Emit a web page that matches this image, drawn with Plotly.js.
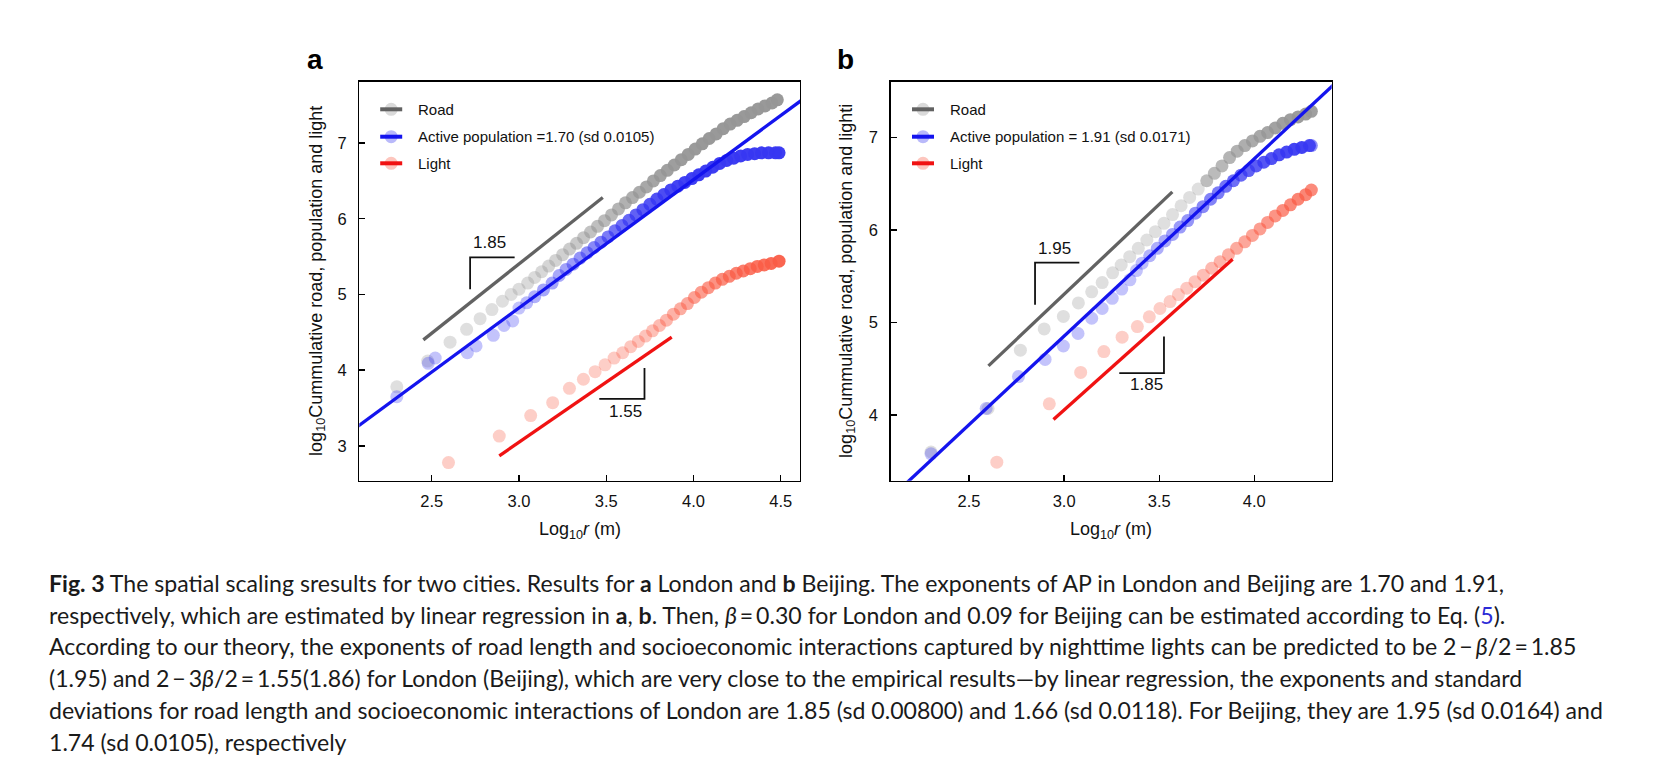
<!DOCTYPE html>
<html>
<head>
<meta charset="utf-8">
<script src="https://cdn.plot.ly/plotly-3.0.1.min.js"></script>
<style>html,body{margin:0;padding:0;background:#fff;}#chart{width:1658px;height:778px;}</style>
</head>
<body>
<div id="chart"></div>
<script>
// ================= DATA =================
// Panel a (London)
const roadA_x = [2.30, 2.477, 2.605, 2.70, 2.777, 2.845, 2.905, 2.955, 3.00, 3.05, 3.09, 3.13, 3.17, 3.21, 3.25, 3.29, 3.33, 3.37, 3.41, 3.45, 3.49, 3.53, 3.57, 3.61, 3.65, 3.69, 3.73, 3.77, 3.81, 3.85, 3.89, 3.93, 3.97, 4.01, 4.05, 4.09, 4.13, 4.17, 4.21, 4.25, 4.29, 4.33, 4.37, 4.41, 4.45, 4.48];
const roadA_y = [3.78, 4.12, 4.37, 4.54, 4.68, 4.80, 4.91, 5.00, 5.07, 5.15, 5.225, 5.30, 5.375, 5.45, 5.525, 5.60, 5.675, 5.75, 5.825, 5.90, 5.975, 6.05, 6.13, 6.21, 6.28, 6.35, 6.42, 6.50, 6.57, 6.64, 6.71, 6.78, 6.85, 6.92, 6.99, 7.06, 7.12, 7.19, 7.25, 7.30, 7.35, 7.40, 7.45, 7.49, 7.53, 7.57];
const popA_x = [2.30, 2.48, 2.52, 2.704, 2.754, 2.853, 2.914, 2.964, 3.00, 3.044, 3.09, 3.14, 3.19, 3.23, 3.27, 3.31, 3.35, 3.39, 3.43, 3.47, 3.51, 3.55, 3.59, 3.63, 3.67, 3.71, 3.75, 3.79, 3.83, 3.87, 3.91, 3.95, 3.99, 4.03, 4.07, 4.11, 4.15, 4.19, 4.23, 4.27, 4.31, 4.35, 4.39, 4.43, 4.47, 4.49];
const popA_y = [3.65, 4.09, 4.16, 4.23, 4.32, 4.46, 4.59, 4.65, 4.82, 4.89, 4.97, 5.06, 5.15, 5.25, 5.33, 5.40, 5.48, 5.55, 5.62, 5.69, 5.76, 5.84, 5.91, 5.98, 6.05, 6.12, 6.19, 6.26, 6.32, 6.38, 6.43, 6.48, 6.53, 6.58, 6.63, 6.68, 6.73, 6.77, 6.80, 6.83, 6.85, 6.86, 6.87, 6.87, 6.87, 6.87];
const lightA_x = [2.596, 2.887, 3.067, 3.193, 3.289, 3.369, 3.436, 3.493, 3.545, 3.594, 3.64, 3.684, 3.725, 3.765, 3.805, 3.845, 3.885, 3.925, 3.965, 4.005, 4.045, 4.085, 4.125, 4.165, 4.205, 4.245, 4.285, 4.325, 4.365, 4.405, 4.445, 4.49];
const lightA_y = [2.78, 3.13, 3.40, 3.57, 3.76, 3.88, 3.98, 4.07, 4.16, 4.23, 4.31, 4.38, 4.45, 4.52, 4.59, 4.66, 4.74, 4.81, 4.88, 4.96, 5.03, 5.09, 5.15, 5.20, 5.24, 5.28, 5.31, 5.34, 5.37, 5.39, 5.41, 5.44];
const popFitA_x = [2.05, 4.65];
const popFitA_y = [3.212, 7.618];
const roadGuideA_x = [2.452, 3.48];
const roadGuideA_y = [4.40, 6.28];
const lightGuideA_x = [2.887, 3.875];
const lightGuideA_y = [2.868, 4.436];
const bracketRoadA_x = [2.975, 2.72, 2.72];
const bracketRoadA_y = [5.49, 5.49, 5.07];
const bracketLightA_x = [3.46, 3.719, 3.719];
const bracketLightA_y = [3.62, 3.62, 4.03];
const slopeLabelsA = [{text: '1.85', x: 2.829, y: 5.68}, {text: '1.55', x: 3.61, y: 3.46}];
const legendLabelsA = ['Road', 'Active population =1.70 (sd 0.0105)', 'Light'];

// Panel b (Beijing)
const roadB_x = [2.30, 2.60, 2.77, 2.895, 2.996, 3.075, 3.145, 3.20, 3.255, 3.30, 3.345, 3.39, 3.435, 3.48, 3.525, 3.57, 3.615, 3.66, 3.705, 3.75, 3.79, 3.83, 3.87, 3.91, 3.95, 3.99, 4.03, 4.07, 4.11, 4.15, 4.19, 4.23, 4.27, 4.30];
const roadB_y = [3.60, 4.07, 4.70, 4.93, 5.065, 5.21, 5.33, 5.43, 5.535, 5.62, 5.71, 5.80, 5.89, 5.98, 6.07, 6.165, 6.26, 6.35, 6.44, 6.53, 6.61, 6.69, 6.78, 6.85, 6.91, 6.96, 7.01, 7.05, 7.10, 7.15, 7.19, 7.22, 7.25, 7.28];
const popB_x = [2.30, 2.59, 2.76, 2.90, 2.996, 3.073, 3.145, 3.20, 3.253, 3.303, 3.346, 3.38, 3.41, 3.45, 3.49, 3.53, 3.57, 3.61, 3.65, 3.69, 3.73, 3.77, 3.81, 3.85, 3.89, 3.93, 3.97, 4.01, 4.05, 4.09, 4.13, 4.17, 4.21, 4.25, 4.29, 4.30];
const popB_y = [3.58, 4.07, 4.415, 4.60, 4.745, 4.88, 5.045, 5.15, 5.26, 5.36, 5.46, 5.56, 5.64, 5.72, 5.80, 5.88, 5.95, 6.03, 6.10, 6.18, 6.25, 6.33, 6.40, 6.47, 6.53, 6.59, 6.64, 6.69, 6.73, 6.77, 6.81, 6.84, 6.87, 6.89, 6.91, 6.91];
const lightB_x = [2.646, 2.922, 3.087, 3.209, 3.305, 3.385, 3.448, 3.504, 3.557, 3.601, 3.645, 3.688, 3.732, 3.776, 3.82, 3.864, 3.907, 3.95, 3.99, 4.03, 4.07, 4.11, 4.15, 4.19, 4.23, 4.27, 4.30];
const lightB_y = [3.49, 4.12, 4.46, 4.685, 4.84, 4.955, 5.06, 5.15, 5.225, 5.30, 5.37, 5.44, 5.51, 5.585, 5.655, 5.73, 5.80, 5.87, 5.94, 6.01, 6.08, 6.15, 6.21, 6.27, 6.33, 6.38, 6.43];
const popFitB_x = [2.15, 4.45];
const popFitB_y = [3.224, 7.630];
const roadGuideB_x = [2.602, 3.569];
const roadGuideB_y = [4.53, 6.41];
const lightGuideB_x = [2.944, 3.886];
const lightGuideB_y = [3.95, 5.682];
const bracketRoadB_x = [3.08, 2.847, 2.847];
const bracketRoadB_y = [5.646, 5.646, 5.19];
const bracketLightB_x = [3.29, 3.525, 3.525];
const bracketLightB_y = [4.451, 4.451, 4.847];
const slopeLabelsB = [{text: '1.95', x: 2.949, y: 5.80}, {text: '1.85', x: 3.432, y: 4.325}];
const legendLabelsB = ['Road', 'Active population = 1.91 (sd 0.0171)', 'Light'];

// sampling step of r (m) behind each series (controls how densely dots pile up)
const rStepA = {road: 100, pop: 100, light: 400};
const rStepB = {road: 200, pop: 200, light: 400};

// Axis ticks
const xTicksA = [2.5, 3.0, 3.5, 4.0, 4.5];
const xTicksB = [2.5, 3.0, 3.5, 4.0];
const yTicksA = [3, 4, 5, 6, 7];
const yTicksB = [4, 5, 6, 7];

// Text
const xTitle = 'Log<sub>10</sub><i>r</i> (m)';
const yTitleA = 'log<sub>10</sub>Cummulative road, population and light';
const yTitleB = 'log<sub>10</sub>Cummulative road, population and lighti';
const captionLines = [
  '<b>Fig. 3</b> The spatial scaling sresults for two cities. Results for <b>a</b> London and <b>b</b> Beijing. The exponents of AP in London and Beijing are 1.70 and 1.91,',
  'respectively, which are estimated by linear regression in <b>a</b>, <b>b</b>. Then, <i>β</i>\u2009=\u20090.30 for London and 0.09 for Beijing can be estimated according to Eq. (<span style="color:#2b2bd6">5</span>).',
  'According to our theory, the exponents of road length and socioeconomic interactions captured by nighttime lights can be predicted to be 2\u2009−\u2009<i>β</i>/2\u2009=\u20091.85',
  '(1.95) and 2\u2009−\u20093<i>β</i>/2\u2009=\u20091.55(1.86) for London (Beijing), which are very close to the empirical results—by linear regression, the exponents and standard',
  'deviations for road length and socioeconomic interactions of London are 1.85 (sd 0.00800) and 1.66 (sd 0.0118). For Beijing, they are 1.95 (sd 0.0164) and',
  '1.74 (sd 0.0105), respectively'
];

// ================= STYLE / LAYOUT =================
const W = 1658, H = 778;
const FONT = 'Liberation Sans, Arial, Helvetica, sans-serif';
const CAP_FONT = 'Lato, Open Sans, sans-serif';
const DOT = 13, BASE_ALPHA = 0.3;
const COL = {
  road: 'rgb(150,150,150)', pop: 'rgb(55,55,242)', light: 'rgb(250,92,70)',
  roadLine: '#626262', popLine: '#1414ee', lightLine: '#f01212'
};
const FRAME_TOP = 81.7, FRAME_BOTTOM = 480.7;
const PANEL = {
  a: {left: 359.3, right: 800.0, xr: [2.085, 4.61], yr: [2.54, 7.81]},
  b: {left: 890.7, right: 1331.7, xr: [2.088, 4.407], yr: [3.29, 7.60]}
};
const px = v => v / W;
const py = v => 1 - v / H;

function opacities(xs, ys, step, p) {
  const kx = (p.right - p.left) / (p.xr[1] - p.xr[0]);
  const ky = (FRAME_BOTTOM - FRAME_TOP) / (p.yr[1] - p.yr[0]);
  return xs.map((x, i) => {
    const i0 = Math.max(0, i - 1), i1 = Math.min(xs.length - 1, i + 1);
    const n = i1 - i0;
    const dx = (xs[i1] - xs[i0]) / n, dy = (ys[i1] - ys[i0]) / n;
    const dPx = Math.hypot(dx * kx, dy * ky);
    if (dPx >= 0.9 * DOT) return BASE_ALPHA;
    const r = Math.pow(10, x);
    const sRef = Math.log10(1 + step / r);
    const ratio = Math.max(1, dx / sRef);
    return Math.min(0.97, 1 - Math.pow(1 - BASE_ALPHA, ratio));
  });
}

function dots(xs, ys, color, step, p, xa, ya) {
  return {x: xs, y: ys, xaxis: xa, yaxis: ya, type: 'scatter', mode: 'markers', hoverinfo: 'skip',
    marker: {size: DOT, color: color, opacity: opacities(xs, ys, step, p), line: {width: 0}}};
}
function line(xs, ys, color, width, xa, ya) {
  return {x: xs, y: ys, xaxis: xa, yaxis: ya, type: 'scatter', mode: 'lines', hoverinfo: 'skip',
    line: {color: color, width: width}};
}

const traces = [
  dots(roadA_x, roadA_y, COL.road, rStepA.road, PANEL.a, 'x', 'y'),
  dots(popA_x, popA_y, COL.pop, rStepA.pop, PANEL.a, 'x', 'y'),
  dots(lightA_x, lightA_y, COL.light, rStepA.light, PANEL.a, 'x', 'y'),
  line(roadGuideA_x, roadGuideA_y, COL.roadLine, 3.3, 'x', 'y'),
  line(popFitA_x, popFitA_y, COL.popLine, 3.3, 'x', 'y'),
  line(lightGuideA_x, lightGuideA_y, COL.lightLine, 3.3, 'x', 'y'),
  line(bracketRoadA_x, bracketRoadA_y, '#111', 1.8, 'x', 'y'),
  line(bracketLightA_x, bracketLightA_y, '#111', 1.8, 'x', 'y'),

  dots(roadB_x, roadB_y, COL.road, rStepB.road, PANEL.b, 'x2', 'y2'),
  dots(popB_x, popB_y, COL.pop, rStepB.pop, PANEL.b, 'x2', 'y2'),
  dots(lightB_x, lightB_y, COL.light, rStepB.light, PANEL.b, 'x2', 'y2'),
  line(roadGuideB_x, roadGuideB_y, COL.roadLine, 3.3, 'x2', 'y2'),
  line(popFitB_x, popFitB_y, COL.popLine, 3.3, 'x2', 'y2'),
  line(lightGuideB_x, lightGuideB_y, COL.lightLine, 3.3, 'x2', 'y2'),
  line(bracketRoadB_x, bracketRoadB_y, '#111', 1.8, 'x2', 'y2'),
  line(bracketLightB_x, bracketLightB_y, '#111', 1.8, 'x2', 'y2')
];

const axisStyle = {
  showgrid: false, zeroline: false, showline: true, mirror: true,
  linecolor: '#000', linewidth: 1.4, ticks: 'inside', ticklen: 6, tickwidth: 1.4, tickcolor: '#000',
  tickfont: {family: FONT, size: 16.5, color: '#111'}, fixedrange: true
};

const shapes = [];
const annotations = [];

// legends (drawn by hand)
function legend(p, labels, lineX0) {
  const ys = [109.3, 136.7, 163.3];
  const dotCols = [COL.road, COL.pop, COL.light];
  const lineCols = [COL.roadLine, COL.popLine, COL.lightLine];
  labels.forEach((lab, i) => {
    const cy = ys[i], cx = lineX0 + 11;
    shapes.push({type: 'circle', xref: 'paper', yref: 'paper',
      x0: px(cx - DOT / 2), x1: px(cx + DOT / 2), y0: py(cy + DOT / 2), y1: py(cy - DOT / 2),
      fillcolor: dotCols[i], opacity: 0.35, line: {width: 0}});
    shapes.push({type: 'line', xref: 'paper', yref: 'paper',
      x0: px(lineX0), x1: px(lineX0 + 22), y0: py(cy), y1: py(cy),
      line: {color: lineCols[i], width: 4}});
    annotations.push({xref: 'paper', yref: 'paper', x: px(lineX0 + 36), y: py(cy),
      xanchor: 'left', yanchor: 'middle', showarrow: false, text: lab,
      font: {family: FONT, size: 15, color: '#111'}});
  });
}
legend(PANEL.a, legendLabelsA, 380.2);
legend(PANEL.b, legendLabelsB, 912.0);

// slope labels
slopeLabelsA.forEach(s => annotations.push({xref: 'x', yref: 'y', x: s.x, y: s.y, text: s.text, showarrow: false,
  font: {family: FONT, size: 17, color: '#111'}, xanchor: 'center', yanchor: 'middle'}));
slopeLabelsB.forEach(s => annotations.push({xref: 'x2', yref: 'y2', x: s.x, y: s.y, text: s.text, showarrow: false,
  font: {family: FONT, size: 17, color: '#111'}, xanchor: 'center', yanchor: 'middle'}));

// axis titles
const midA = (PANEL.a.left + PANEL.a.right) / 2, midB = (PANEL.b.left + PANEL.b.right) / 2;
const midY = (FRAME_TOP + FRAME_BOTTOM) / 2;
annotations.push({xref: 'paper', yref: 'paper', x: px(midA), y: py(530), text: xTitle, showarrow: false,
  font: {family: FONT, size: 18, color: '#111'}, xanchor: 'center', yanchor: 'middle'});
annotations.push({xref: 'paper', yref: 'paper', x: px(midB), y: py(530), text: xTitle, showarrow: false,
  font: {family: FONT, size: 18, color: '#111'}, xanchor: 'center', yanchor: 'middle'});
annotations.push({xref: 'paper', yref: 'paper', x: px(316.7), y: py(midY), text: yTitleA, showarrow: false, textangle: -90,
  font: {family: FONT, size: 18, color: '#111'}, xanchor: 'center', yanchor: 'middle'});
annotations.push({xref: 'paper', yref: 'paper', x: px(846.7), y: py(midY), text: yTitleB, showarrow: false, textangle: -90,
  font: {family: FONT, size: 18, color: '#111'}, xanchor: 'center', yanchor: 'middle'});

// panel letters
annotations.push({xref: 'paper', yref: 'paper', x: px(315), y: py(60), text: '<b>a</b>', showarrow: false,
  font: {family: FONT, size: 28, color: '#000'}, xanchor: 'center', yanchor: 'middle'});
annotations.push({xref: 'paper', yref: 'paper', x: px(845), y: py(60), text: '<b>b</b>', showarrow: false,
  font: {family: FONT, size: 28, color: '#000'}, xanchor: 'center', yanchor: 'middle'});

// caption
captionLines.forEach((t, i) => annotations.push({xref: 'paper', yref: 'paper', x: px(47), y: py(582.6 + i * 31.94),
  text: t, showarrow: false, xanchor: 'left', yanchor: 'middle', align: 'left',
  font: {family: CAP_FONT, size: 23.1, color: '#1a1a1a'}}));

const layout = {
  width: W, height: H, margin: {l: 0, r: 0, t: 0, b: 0},
  paper_bgcolor: '#fff', plot_bgcolor: '#fff', showlegend: false,
  font: {family: FONT, color: '#111'},
  xaxis: Object.assign({}, axisStyle, {domain: [px(PANEL.a.left), px(PANEL.a.right)], range: PANEL.a.xr,
    tickvals: xTicksA, ticktext: xTicksA.map(v => v.toFixed(1)), anchor: 'y', ticklabelstandoff: 5}),
  yaxis: Object.assign({}, axisStyle, {domain: [py(FRAME_BOTTOM), py(FRAME_TOP)], range: PANEL.a.yr,
    tickvals: yTicksA, ticktext: yTicksA.map(String), anchor: 'x', ticklabelstandoff: 8}),
  xaxis2: Object.assign({}, axisStyle, {domain: [px(PANEL.b.left), px(PANEL.b.right)], range: PANEL.b.xr,
    tickvals: xTicksB, ticktext: xTicksB.map(v => v.toFixed(1)), anchor: 'y2', ticklabelstandoff: 5}),
  yaxis2: Object.assign({}, axisStyle, {domain: [py(FRAME_BOTTOM), py(FRAME_TOP)], range: PANEL.b.yr,
    tickvals: yTicksB, ticktext: yTicksB.map(String), anchor: 'x2', ticklabelstandoff: 8}),
  shapes: shapes,
  annotations: annotations
};

Plotly.newPlot('chart', traces, layout, {displayModeBar: false, staticPlot: true});
</script>
</body>
</html>
